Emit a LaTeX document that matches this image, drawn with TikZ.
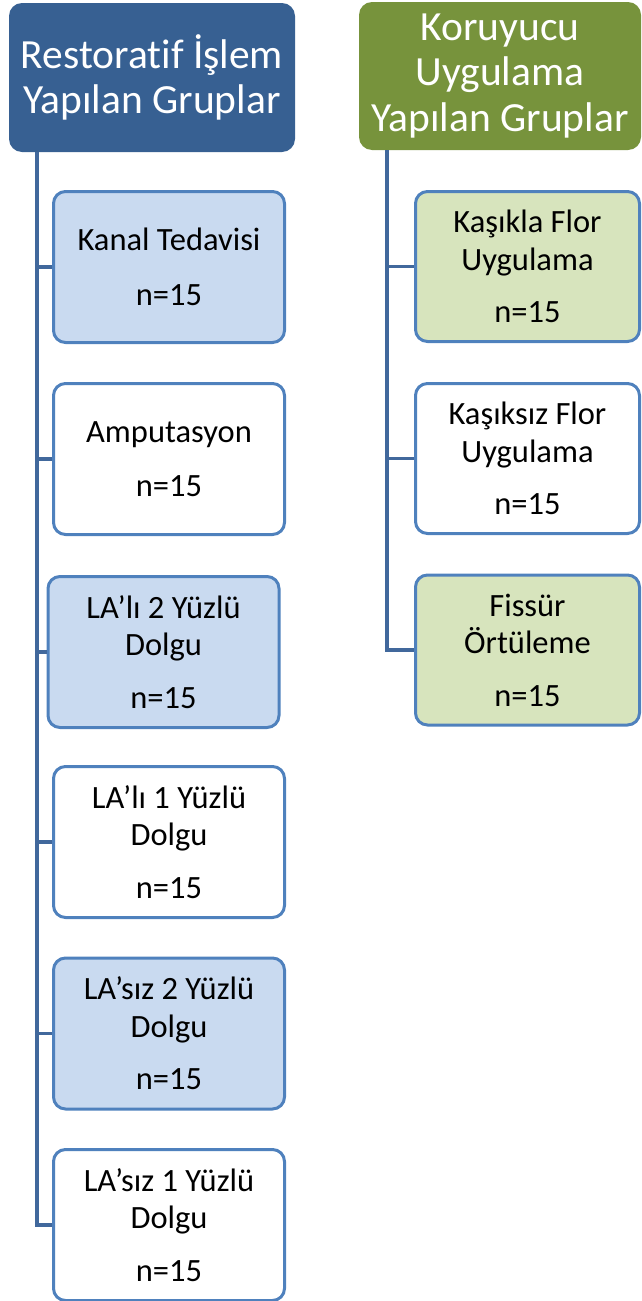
\documentclass[tikz,border=0pt]{standalone}
\usepackage{fontspec}
\setmainfont{Carlito}[Ligatures=NoCommon]
\definecolor{hdrblue}{HTML}{376092}
\definecolor{hdrgreen}{HTML}{77933C}
\definecolor{boxline}{HTML}{4F81BD}
\definecolor{boxblue}{HTML}{C9DAF0}
\definecolor{boxgreen}{HTML}{D7E4BD}
\definecolor{connline}{HTML}{41689C}
\begin{document}
\begin{tikzpicture}[x=1pt,y=-1pt,
  header/.style={rounded corners=13pt, text=white, align=center, inner sep=0pt,
    font=\fontsize{41.5}{45.5}\selectfont},
  groupbox/.style={draw=boxline, line width=3pt, rounded corners=12pt, align=center,
    inner sep=0pt, minimum width=231pt, minimum height=151pt,
    font=\fontsize{32.5}{37.5}\selectfont},
  bluebox/.style={groupbox, fill=boxblue},
  whitebox/.style={groupbox, fill=white},
  greenbox/.style={groupbox, fill=boxgreen, minimum width=224pt, minimum height=150pt},
  conn/.style={draw=connline, line width=3.5pt}
]
\useasboundingbox (0,0) rectangle (642,1301);
% headers
\node[header, fill=hdrblue, minimum width=286pt, minimum height=149pt] (hl) at (152,77.5)
  {Restoratif İşlem\\Yapılan Gruplar};
\node[header, fill=hdrgreen, minimum width=282pt, minimum height=148pt] (hr) at (500,76)
  {Koruyucu\\Uygulama\\Yapılan Gruplar};
% left column
\coordinate (lx) at (37,152);
\coordinate (rx) at (387,150);
\node[bluebox] (b1) at (169,267) {Kanal Tedavisi\\[17pt]n=15};
\node[whitebox] (b2) at (169,459) {Amputasyon\\[17pt]n=15};
\node[bluebox] (b3) at (163.5,652) {LA’lı 2 Yüzlü\\Dolgu\\[15pt]n=15};
\node[whitebox] (b4) at (169,842) {LA’lı 1 Yüzlü\\Dolgu\\[15pt]n=15};
\node[bluebox] (b5) at (169,1033.5) {LA’sız 2 Yüzlü\\Dolgu\\[15pt]n=15};
\node[whitebox] (b6) at (169,1225) {LA’sız 1 Yüzlü\\Dolgu\\[15pt]n=15};
% right column
\node[greenbox] (r1) at (527.5,266.5) {Kaşıkla Flor\\Uygulama\\[15pt]n=15};
\node[whitebox, minimum width=224pt, minimum height=150pt] (r2) at (527.5,458.5) {Kaşıksız Flor\\Uygulama\\[15pt]n=15};
\node[greenbox] (r3) at (527.5,650) {Fissür\\Örtüleme\\[15pt]n=15};
% connectors
\draw[conn] (lx) |- (b6.west);
\foreach \b in {b1,b2,b3,b4,b5}{\draw[conn] (\b.west -| lx) -- (\b.west);}
\draw[conn] (rx) |- (r3.west);
\foreach \b in {r1,r2}{\draw[conn] (\b.west -| rx) -- (\b.west);}
\end{tikzpicture}
\end{document}
